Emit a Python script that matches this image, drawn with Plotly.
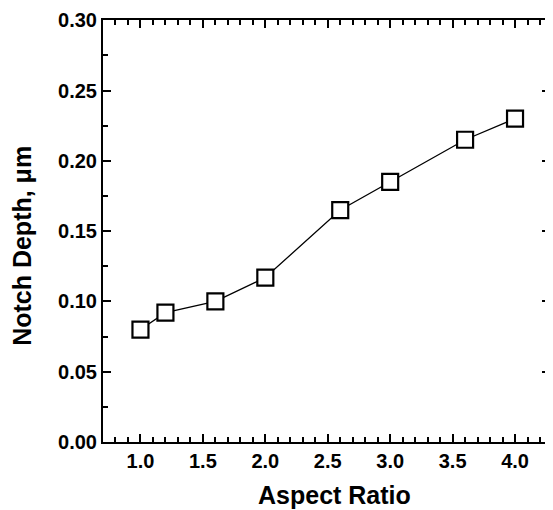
import plotly.graph_objects as go

# data
aspect_ratio = [1.0, 1.2, 1.6, 2.0, 2.6, 3.0, 3.6, 4.0]
notch_depth = [0.080, 0.092, 0.100, 0.117, 0.165, 0.185, 0.215, 0.230]

x_ticks = [1.0, 1.5, 2.0, 2.5, 3.0, 3.5, 4.0]
y_ticks = [0.00, 0.05, 0.10, 0.15, 0.20, 0.25, 0.30]

font_family = "Liberation Sans, Arial, sans-serif"
title_font = dict(family=font_family, size=25, color="black", weight="bold")

fig = go.Figure(
    go.Scatter(
        x=aspect_ratio,
        y=notch_depth,
        mode="lines+markers",
        line=dict(color="black", width=1.3),
        marker=dict(symbol="square", size=16, color="white",
                    line=dict(color="black", width=2.2)),
        showlegend=False,
    )
)

axis_common = dict(
    showgrid=False,
    zeroline=False,
    showline=True,
    linecolor="black",
    linewidth=2,
    mirror="allticks",
    ticks="inside",
    ticklen=8,
    tickwidth=2,
    tickcolor="black",
    automargin=False,
    tickfont=dict(family=font_family, size=20, color="black", weight="bold"),
)

fig.update_xaxes(
    **axis_common,
    range=[0.7, 4.28],
    tickvals=x_ticks,
    ticktext=[f"{v:.1f}" for v in x_ticks],
    minor=dict(dtick=0.1, tick0=1.0, ticks="inside", ticklen=5, tickwidth=2, tickcolor="black"),
)
fig.update_yaxes(
    **axis_common,
    range=[0, 0.3002],
    tickvals=y_ticks,
    ticktext=[f"{v:.2f}" for v in y_ticks],
    minor=dict(dtick=0.025, tick0=0, ticks="inside", ticklen=5, tickwidth=2, tickcolor="black"),
)

# axis titles placed as annotations so the plot area keeps its size
fig.add_annotation(text="Aspect Ratio", xref="paper", yref="paper", x=0.519, y=-0.125,
                   xanchor="center", yanchor="middle", showarrow=False, font=title_font)
fig.add_annotation(text="Notch Depth, μm", xref="paper", yref="paper", x=-0.181, y=0.465,
                   xanchor="center", yanchor="middle", textangle=-90, showarrow=False, font=title_font)

# the page body adds an 8px margin, so the figure is sized to fit inside the window
fig.update_layout(
    width=545,
    height=502,
    margin=dict(l=95, r=3, t=12, b=68),
    plot_bgcolor="white",
    paper_bgcolor="white",
)

fig.write_html("out.html")
